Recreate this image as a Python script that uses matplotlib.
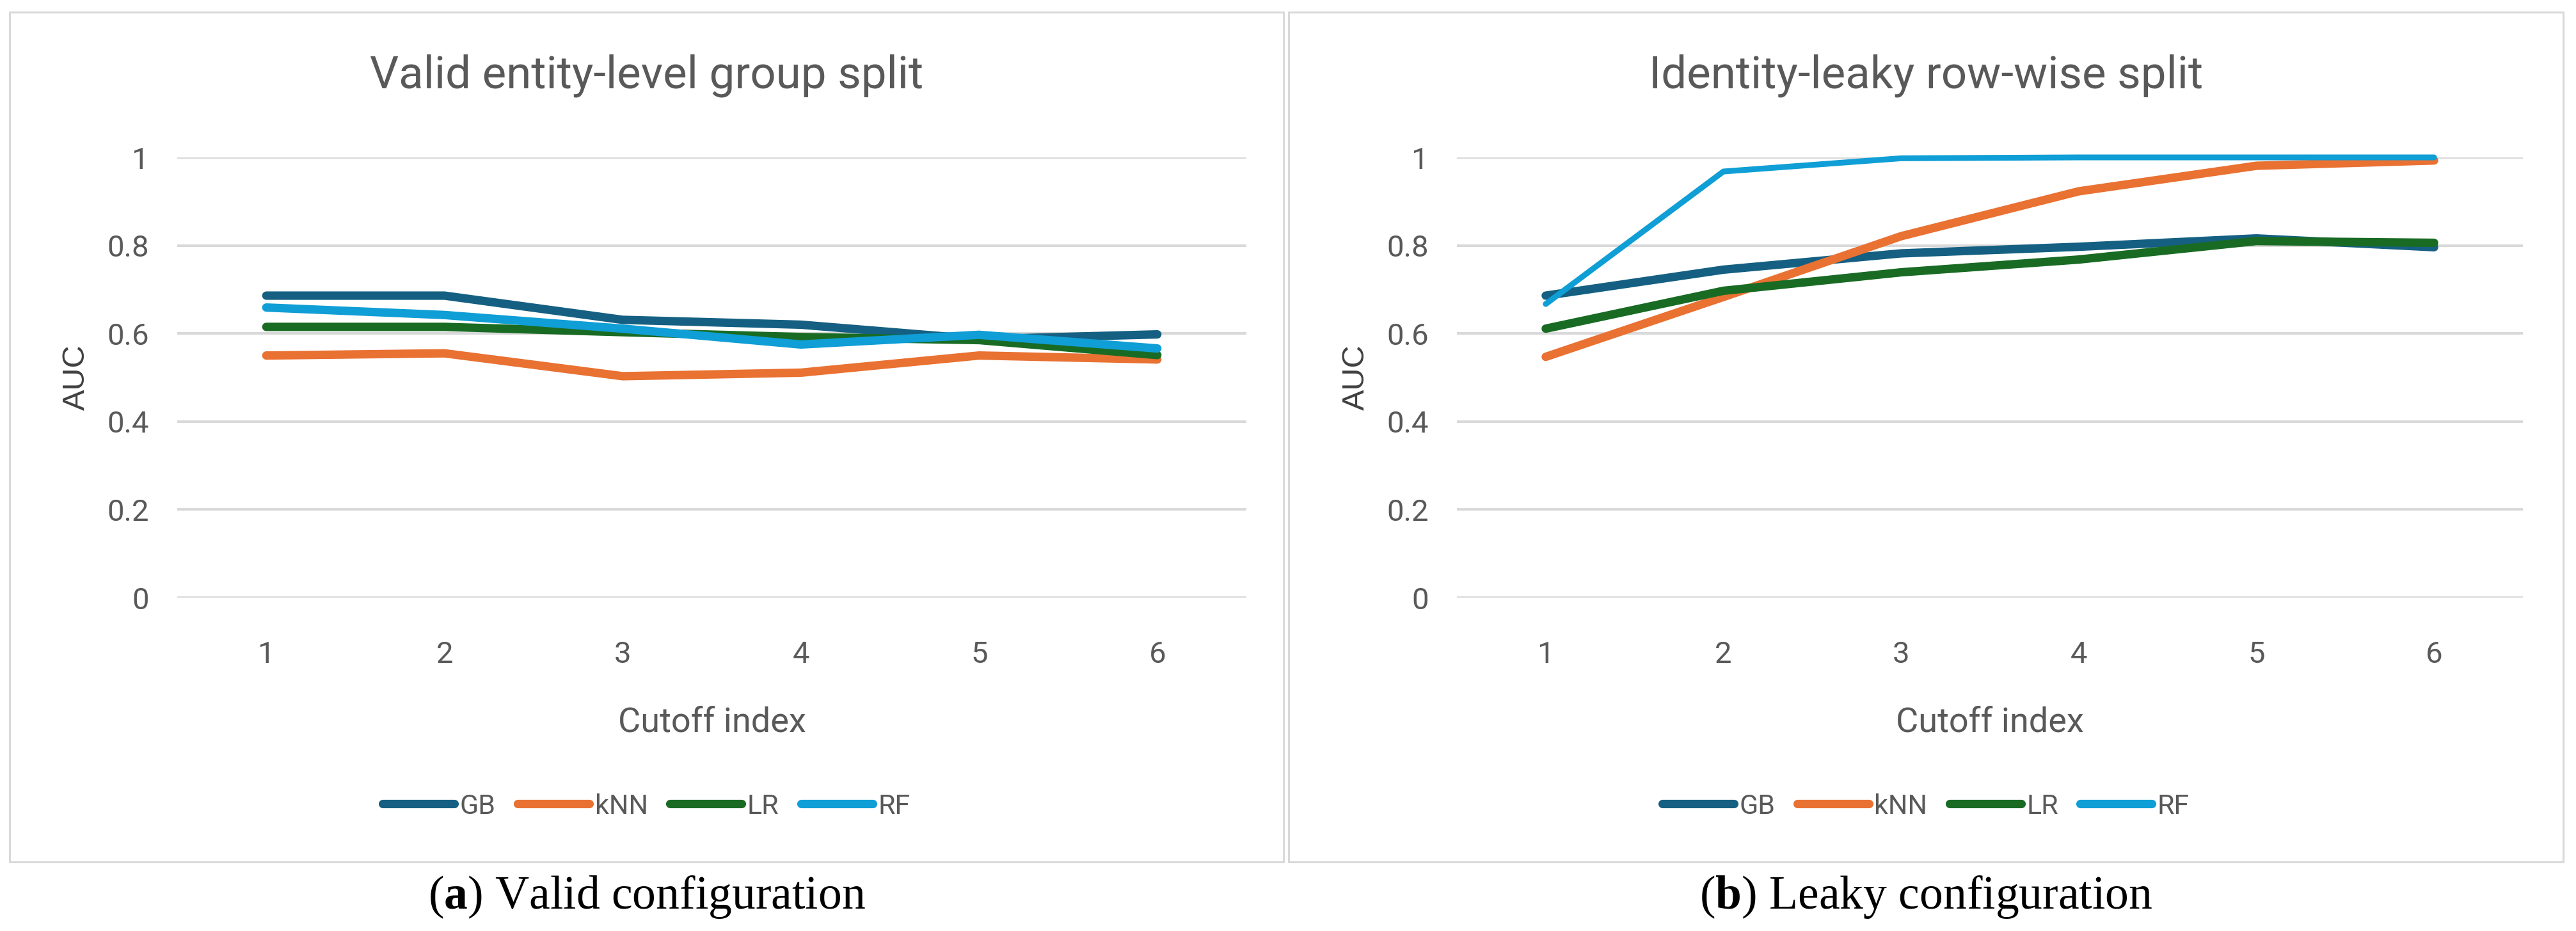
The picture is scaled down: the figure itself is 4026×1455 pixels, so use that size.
import matplotlib
matplotlib.use('Agg')
import matplotlib.pyplot as plt
from matplotlib.patches import Rectangle

plt.rcParams['font.family'] = ['Roboto', 'DejaVu Sans']
plt.rcParams['mathtext.fontset'] = 'custom'
plt.rcParams['mathtext.rm'] = 'Liberation Serif'
plt.rcParams['mathtext.bf'] = 'Liberation Serif:bold'

# data
cutoffs = [1, 2, 3, 4, 5, 6]
models = ['GB', 'kNN', 'LR', 'RF']

valid_gb = [0.686, 0.686, 0.631, 0.620, 0.587, 0.598]
valid_knn = [0.550, 0.555, 0.503, 0.511, 0.550, 0.541]
valid_lr = [0.615, 0.615, 0.603, 0.592, 0.585, 0.551]
valid_rf = [0.659, 0.642, 0.611, 0.575, 0.597, 0.566]

leaky_gb = [0.686, 0.745, 0.782, 0.797, 0.816, 0.796]
leaky_knn = [0.547, 0.683, 0.821, 0.923, 0.981, 0.993]
leaky_lr = [0.611, 0.697, 0.739, 0.768, 0.810, 0.806]
leaky_rf = [0.667, 0.968, 0.998, 1.0, 1.0, 1.0]

colors = ['#156082', '#E97132', '#196B24', '#0F9ED5']
titles = ['Valid entity-level group split', 'Identity-leaky row-wise split']
captions = [r'($\mathbf{a}$) Valid configuration', r'($\mathbf{b}$) Leaky configuration']

W, H = 4026, 1455
fig = plt.figure(figsize=(W / 100, H / 100), dpi=100)


def fx(px):
    return px / W


def fy(py):
    return 1 - py / H


def draw_panel(frame, axes_x, series, title, caption, rf_lw):
    fl, fr = frame
    # light grey chart border
    fig.patches.append(Rectangle((fx(fl), fy(1347)), fx(fr - fl), (1347 - 19) / H,
                                 fill=False, edgecolor='#D9D9D9', linewidth=2.2,
                                 transform=fig.transFigure, figure=fig))
    ax = fig.add_axes([fx(axes_x[0]), fy(934), fx(axes_x[1] - axes_x[0]), (934 - 246) / H])
    for count, (name, vals) in enumerate(zip(models, series)):
        lw = rf_lw if name == 'RF' else 9.5
        ax.plot(cutoffs, vals, color=colors[count], lw=lw, label=name,
                solid_capstyle='round', solid_joinstyle='round', clip_on=False, zorder=3)
    ax.set_xlim(0.5, 6.5)
    ax.set_ylim(0, 1)
    ax.set_yticks([0, 0.2, 0.4, 0.6, 0.8, 1.0])
    ax.set_yticklabels(['0', '0.2', '0.4', '0.6', '0.8', '1'])
    ax.set_xticks(cutoffs)
    ax.grid(axis='y', color='#D9D9D9', lw=2.9)
    ax.set_axisbelow(True)
    for s in ax.spines.values():
        s.set_visible(False)
    ax.tick_params(length=0, labelsize=34, colors='#595959')
    ax.tick_params(axis='y', pad=32)
    ax.tick_params(axis='x', pad=48)
    ax.set_ylabel('AUC', fontsize=35, color='#404040', family='Liberation Sans', labelpad=18)
    ax.set_xlabel('Cutoff index', fontsize=39, color='#595959', labelpad=42)
    cx = fx((fl + fr) / 2)
    fig.text(cx, fy(118), title, fontsize=51, color='#595959', ha='center', va='center')
    handles = [plt.Line2D([], [], color=c, lw=9.5, solid_capstyle='round') for c in colors]
    fig.legend(handles, models, loc='center', ncol=4, frameon=False,
               bbox_to_anchor=(cx, fy(1260)), bbox_transform=fig.transFigure,
               fontsize=31, labelcolor='#595959', handlelength=2.6, handletextpad=0.2,
               columnspacing=0.8)
    fig.text(cx, fy(1402), caption, fontsize=53, color='black', ha='center', va='center',
             family='Liberation Serif')
    return ax


draw_panel((15, 2006), (277, 1948), [valid_gb, valid_knn, valid_lr, valid_rf],
           titles[0], captions[0], 9.5)
draw_panel((2014, 4006), (2277, 3943), [leaky_gb, leaky_knn, leaky_lr, leaky_rf],
           titles[1], captions[1], 6.5)

fig.savefig('out.png', dpi=100, facecolor='white')
plt.close()
